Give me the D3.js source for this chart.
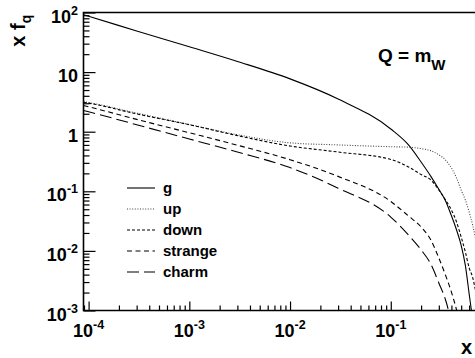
<!DOCTYPE html>
<html>
<head>
<meta charset="utf-8">
<script src="https://cdn.jsdelivr.net/npm/d3@7"></script>
<style>
body { margin: 0; background: #fff; }
svg { display: block; font-family: "Liberation Sans", Arial, Helvetica, sans-serif; font-weight: bold; }
</style>
</head>
<body>
<svg width="475" height="358"></svg>
<script>
// x grid shared by all curves
var xs = [8.9e-5, 1e-4, 3e-4, 1e-3, 3e-3, 0.01, 0.03, 0.1, 0.15, 0.2, 0.25, 0.3,
          0.35, 0.4, 0.45, 0.5, 0.55, 0.6, 0.65, 0.7, 0.8];

var gluon   = [91.5, 86.3, 49, 26.6, 15.1, 7.7, 3.54, 1.11, 0.60, 0.31, 0.178, 0.108,
               0.069, 0.039, 0.0224, 0.0124, 0.0057, 0.0019, 0.00068, 0.0002, 0.00003];
var up      = [3.18, 3.08, 2.05, 1.32, 0.89, 0.65, 0.60, 0.56, 0.55, 0.52, 0.48, 0.41,
               0.335, 0.246, 0.167, 0.105, 0.0714, 0.045, 0.0272, 0.0152, 0.0048];
var down    = [3.12, 3.02, 1.99, 1.31, 0.86, 0.575, 0.456, 0.342, 0.256, 0.191, 0.155, 0.105,
               0.0714, 0.0486, 0.0305, 0.0171, 0.0096, 0.0052, 0.0036, 0.002, 0.0005];
var strange = [2.75, 2.62, 1.61, 0.96, 0.594, 0.339, 0.178, 0.0675, 0.0385, 0.0252, 0.0152, 0.0076,
               0.0039, 0.00204, 0.00102, 0.00047, 0.0002, 0.0001, 0.00005, 0.00003, 0.00001];
var charm   = [2.27, 2.16, 1.31, 0.755, 0.456, 0.25, 0.113, 0.037, 0.0185, 0.0104, 0.006, 0.0029,
               0.0015, 0.00065, 0.0003, 0.00015, 0.0001, 0.00005, 0.00003, 0.00002, 0.00001];

var names  = ["g", "up", "down", "strange", "charm"];
var dashes = [null, "1,1.6", "3,2", "5,3.5", "12,5"];
var strokes = ["#000", "#444", "#000", "#000", "#000"];

var yTickVals = [1e-3, 1e-2, 1e-1, 1, 10, 100];
var yTickBase = ["10", "10", "10", "1", "10", "10"];
var yTickExp  = ["-3", "-2", "-1", "", "", "2"];
var xTickVals = [1e-4, 1e-3, 1e-2, 1e-1];
var xTickExp  = ["-4", "-3", "-2", "-1"];

var svg = d3.select("svg");

var x = d3.scaleLog().domain([8.9e-5, 1]).range([83.5, 491.5]);
var y = d3.scaleLog().domain([1e-3, 100]).range([310.5, 12.5]);

svg.append("clipPath").attr("id", "plot")
  .append("rect")
    .attr("x", x.range()[0]).attr("y", y.range()[1])
    .attr("width", x.range()[1] - x.range()[0])
    .attr("height", y.range()[0] - y.range()[1]);

// minor tick values 2..9 per decade
function minors(lo, hi) {
  var out = [];
  for (var k = lo; k < hi; k++)
    for (var d = 2; d <= 9; d++) out.push(d * Math.pow(10, k));
  return out;
}

var yMinor = minors(-3, 2);
var xMinor = minors(-5, 0).filter(v => v >= x.domain()[0] && v <= 1);

var gy = svg.append("g").attr("transform", "translate(" + x.range()[0] + ",0)");
gy.call(d3.axisLeft(y).tickValues(yTickVals).tickSizeInner(-12).tickSizeOuter(0).tickFormat(""));
gy.append("g").call(d3.axisLeft(y).tickValues(yMinor).tickSizeInner(-6).tickSizeOuter(0).tickFormat(""));

var gx = svg.append("g").attr("transform", "translate(0," + y.range()[0] + ")");
gx.call(d3.axisBottom(x).tickValues(xTickVals).tickSizeInner(-9).tickSizeOuter(0).tickFormat(""));
gx.append("g").call(d3.axisBottom(x).tickValues(xMinor).tickSizeInner(-5).tickSizeOuter(0).tickFormat(""));

svg.selectAll(".domain").remove();
svg.selectAll(".tick line").attr("stroke", "#000").attr("stroke-width", 1.2);

// frame
svg.append("path")
  .attr("d", "M" + x.range()[1] + "," + y.range()[1] + "H" + x.range()[0] +
             "V" + y.range()[0] + "H" + x.range()[1])
  .attr("fill", "none").attr("stroke", "#000").attr("stroke-width", 1.6);

// tick labels
yTickVals.forEach(function(v, i) {
  var t = svg.append("text")
    .attr("x", 78).attr("y", y(v) + 10)
    .attr("text-anchor", "end").attr("font-size", 18);
  t.append("tspan").text(yTickBase[i]);
  if (yTickExp[i]) t.append("tspan").attr("dy", -8).attr("font-size", 12.5).text(yTickExp[i]);
});

xTickVals.forEach(function(v, i) {
  var t = svg.append("text")
    .attr("x", x(v)).attr("y", 336.7)
    .attr("text-anchor", "middle").attr("font-size", 18);
  t.append("tspan").text("10");
  t.append("tspan").attr("dy", -8).attr("font-size", 12.5).text(xTickExp[i]);
});

// curves
var series = [gluon, up, down, strange, charm];
var line = d3.line()
  .x(d => x(d[0]))
  .y(d => y(d[1]))
  .curve(d3.curveMonotoneX);

var curves = svg.append("g").attr("clip-path", "url(#plot)");
series.forEach(function(vals, i) {
  curves.append("path")
    .datum(xs.map((xv, j) => [xv, vals[j]]))
    .attr("d", line)
    .attr("fill", "none")
    .attr("stroke", strokes[i])
    .attr("stroke-width", 1.1)
    .attr("stroke-dasharray", dashes[i]);
});

// legend
var legend = svg.append("g");
names.forEach(function(n, i) {
  var ly = 188 + i * 21;
  legend.append("line")
    .attr("x1", 127).attr("x2", 155).attr("y1", ly).attr("y2", ly)
    .attr("stroke", strokes[i]).attr("stroke-width", 1.1)
    .attr("stroke-dasharray", dashes[i]);
  legend.append("text")
    .attr("x", 163).attr("y", ly + 5)
    .attr("font-size", 15).text(n);
});

// title Q = m_W
var q = svg.append("text").attr("x", 378).attr("y", 61.7).attr("font-size", 19);
q.append("tspan").text("Q = m");
q.append("tspan").attr("dy", 8).attr("font-size", 15).text("W");

// axis titles
var yt = svg.append("text")
  .attr("transform", "translate(25,46.7) rotate(-90)")
  .attr("font-size", 20);
yt.append("tspan").text("x f");
yt.append("tspan").attr("dy", 6).attr("font-size", 14).text("q");

svg.append("text").attr("x", 461).attr("y", 354).attr("font-size", 20).text("x");
</script>
</body>
</html>
